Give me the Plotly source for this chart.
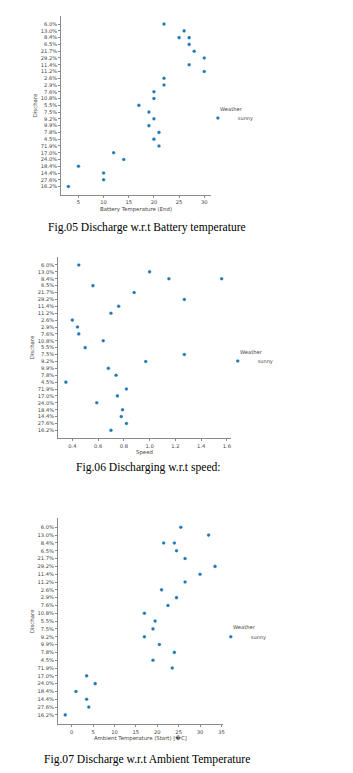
import plotly.graph_objects as go

W, H = 353, 773

categories = ["6.0%", "13.0%", "8.4%", "6.5%", "21.7%", "29.2%", "11.4%", "11.2%", "2.6%", "2.9%",
              "7.6%", "10.8%", "5.5%", "7.5%", "9.2%", "9.9%", "7.8%", "4.5%", "71.9%", "17.0%",
              "24.0%", "18.4%", "14.4%", "27.6%", "16.2%"]

discharge = ["6.0%", "13.0%", "8.4%", "8.4%", "6.5%", "21.7%", "29.2%", "11.4%", "11.2%", "2.6%",
             "2.9%", "7.6%", "10.8%", "5.5%", "7.5%", "9.2%", "9.9%", "7.8%", "4.5%", "71.9%",
             "17.0%", "24.0%", "18.4%", "14.4%", "27.6%", "16.2%"]

battery_temp_end = [22, 26, 25, 27, 27, 28, 30, 27, 30, 22, 22, 20, 20, 17, 19, 20, 19, 21, 20, 21,
                    12, 14, 5, 10, 10, 3]

speed = [0.45, 1.0, 1.15, 1.56, 0.56, 0.88, 1.27, 0.76, 0.70, 0.40, 0.44, 0.45, 0.64, 0.50, 1.27,
         0.97, 0.68, 0.74, 0.35, 0.82, 0.75, 0.59, 0.79, 0.78, 0.82, 0.70]

ambient_temp_start = [25.5, 32, 21.5, 24, 24.5, 26.5, 33.5, 30, 26.5, 21, 24.5, 22.5, 17, 19.5, 19,
                      17, 20.5, 24, 19, 23.5, 3.5, 5.5, 1, 3.5, 4, -1.5]

weather = "sunny"

x_titles = ["Battery Temperature (End)", "Speed", "Ambient Temperature (Start) [\ufffdC]"]
y_title = "Dischare"
captions = ["Fig.05 Discharge w.r.t Battery temperature",
            "Fig.06 Discharging w.r.t speed:",
            "Fig.07 Discharge w.r.t Ambient Temperature"]
x_ticks = [[5, 10, 15, 20, 25, 30],
           [0.4, 0.6, 0.8, 1.0, 1.2, 1.4, 1.6],
           [0, 5, 10, 15, 20, 25, 30, 35]]
x_ticktext = [[str(v) for v in x_ticks[0]],
              ["%.1f" % v for v in x_ticks[1]],
              [str(v) for v in x_ticks[2]]]


def fx(px):
    return px / W


def fy(py):
    return 1 - py / H


# layout boxes in pixels: (left, right, top, bottom)
boxes = [(61.7, 212, 16, 195), (58.5, 232, 256.7, 438.3), (58.3, 224, 518.3, 724.3)]
x_ranges = [[1.6, 31.3], [0.29, 1.63], [-3.2, 35.3]]
y_ranges = [[25.25, -1.2], [25.15, -1.2], [25.2, -1.15]]
legend_pos = [(219, 109, 118), (239, 352, 361), (232, 626.7, 636.7)]
caption_pos = [(148, 228), (149, 468), (148, 759)]

xs = [battery_temp_end, speed, ambient_temp_start]

BLUE = "#1f77b4"
AXC = "#8a8a8a"
TXT = "#444444"
tick_font = dict(family="DejaVu Sans", size=5.2, color=TXT)

fig = go.Figure()
layout = dict(width=W, height=H, margin=dict(l=0, r=0, t=0, b=0),
              paper_bgcolor="white", plot_bgcolor="white", autosize=False,
              annotations=[])

for i in range(3):
    sfx = "" if i == 0 else str(i + 1)
    leg = "legend" if i == 0 else "legend" + str(i + 1)
    fig.add_trace(go.Scatter(
        x=xs[i], y=discharge, mode="markers", name=weather,
        marker=dict(color=BLUE, size=3.6, line=dict(color="white", width=0.3)),
        xaxis="x" + sfx, yaxis="y" + sfx, legend=leg, showlegend=True))
    l, r, t, b = boxes[i]
    layout["xaxis" + sfx] = dict(
        domain=[fx(l), fx(r)], anchor="y" + sfx, range=x_ranges[i],
        tickvals=x_ticks[i], ticktext=x_ticktext[i], tickfont=tick_font,
        showline=True, linecolor=AXC, linewidth=1, ticks="outside", ticklen=2,
        tickcolor=AXC, tickwidth=0.8, showgrid=False, zeroline=False,
        title=dict(text=x_titles[i], font=dict(family="DejaVu Sans", size=5.4, color=TXT),
                   standoff=2))
    layout["yaxis" + sfx] = dict(
        domain=[fy(b), fy(t)], anchor="x" + sfx, type="category",
        categoryorder="array", categoryarray=categories, range=y_ranges[i],
        tickfont=tick_font, showline=True, linecolor=AXC, linewidth=1,
        ticks="outside", ticklen=2, tickcolor=AXC, tickwidth=0.8,
        showgrid=False, zeroline=False,
        title=dict(text=y_title, font=dict(family="DejaVu Sans", size=5.4, color=TXT),
                   standoff=2))
    tx, ty, iy = legend_pos[i]
    layout[leg] = dict(x=fx(tx - 20), y=fy(iy), xanchor="left", yanchor="middle",
                       bgcolor="rgba(0,0,0,0)", font=dict(family="DejaVu Sans", size=5, color=TXT),
                       itemsizing="trace")
    layout["annotations"].append(dict(
        text="Weather", x=fx(tx), y=fy(ty), xref="paper", yref="paper",
        xanchor="left", yanchor="middle", showarrow=False,
        font=dict(family="DejaVu Sans", size=5.2, color=TXT)))
    cx, cy = caption_pos[i]
    layout["annotations"].append(dict(
        text=captions[i], x=fx(cx), y=fy(cy), xref="paper", yref="paper",
        xanchor="center", yanchor="middle", showarrow=False,
        font=dict(family="Liberation Serif", size=11.6, color="black")))

fig.update_layout(**layout)
fig.write_html("out.html")
